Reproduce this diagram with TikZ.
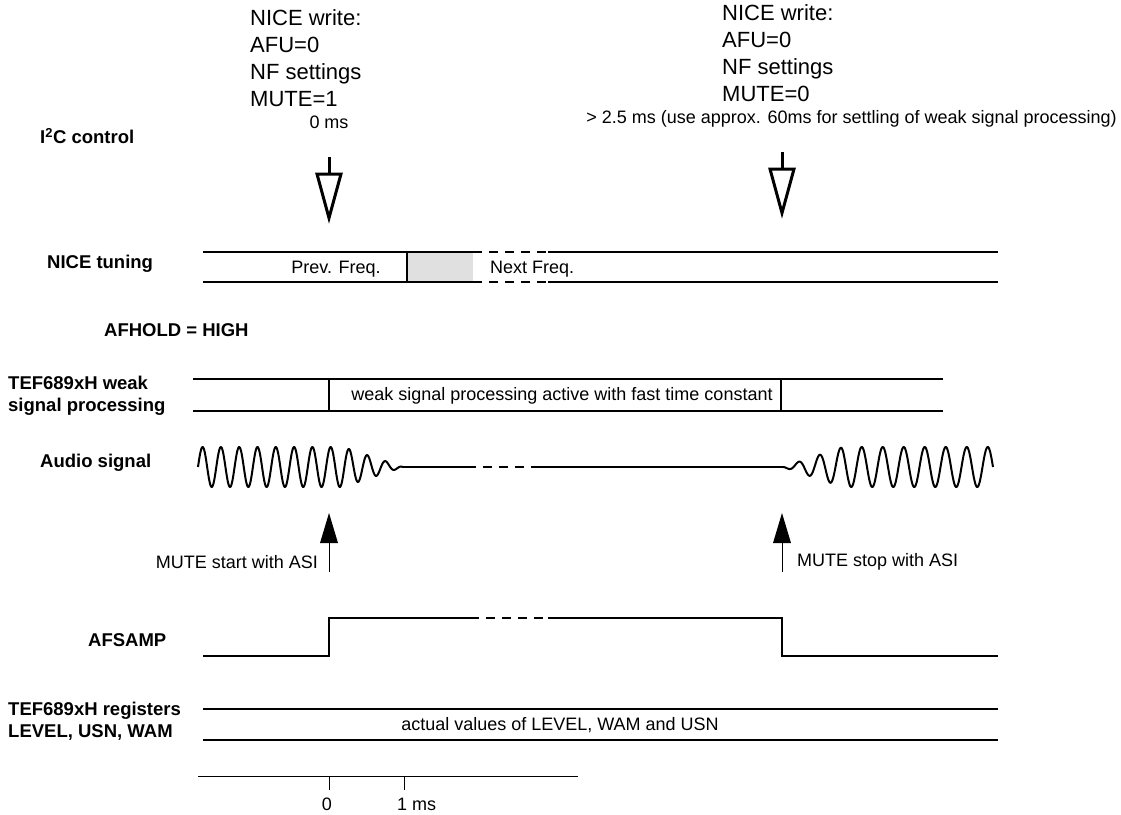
\documentclass[tikz,border=0pt]{standalone}
\usepackage{fontspec}
\setmainfont{Liberation Sans}
\begin{document}
\begin{tikzpicture}[x=1pt,y=-1pt,
  sig/.style={line width=2pt},
  gapline/.style={line width=2pt, dash pattern=on 9pt off 7pt},
  lbl/.style={font=\bfseries\fontsize{18.5}{22}\selectfont, anchor=west, align=left, inner sep=0pt},
  big/.style={font=\fontsize{22}{27}\selectfont, anchor=base west, align=left, inner sep=0pt},
  sm/.style={font=\fontsize{18}{20}\selectfont, inner sep=0pt},
  openarrow/.style={line width=3pt, miter limit=10, fill=white},
  asiarrow/.style={line width=0.8pt},
  asihead/.style={fill=black, draw=none}]
\useasboundingbox (0,0) rectangle (1121,814);

% left labels
\node[lbl] (i2c) at (40,136) {I\textsuperscript{2}C control};
\node[lbl] (tun) at (47,264) {NICE tuning};
\node[lbl] (afh) at (104,330) {AFHOLD = HIGH};
\node[lbl] (wsp) at (8,396) {TEF689xH weak\\signal processing};
\node[lbl] (aud) at (40,463) {Audio signal};
\node[lbl] (afs) at (88,640) {AFSAMP};
\node[lbl] (reg) at (8,721) {TEF689xH registers\\LEVEL, USN, WAM};

% top texts
\node[big] (w1a) at (250,25) {NICE write:};
\node[big] (w1b) at (250,52) {AFU=0};
\node[big] (w1c) at (250,79) {NF settings};
\node[big] (w1d) at (250,106) {MUTE=1};
\node[big] (w2a) at (722,20) {NICE write:};
\node[big] (w2b) at (722,47) {AFU=0};
\node[big] (w2c) at (722,74) {NF settings};
\node[big] (w2d) at (722,101) {MUTE=0};
\node[sm, anchor=base] (t0) at (329,128) {0 ms};
\node[sm, anchor=base east] (t1) at (1117,123) {> 2.5 ms (use approx. 60ms for settling of weak signal processing)};

% I2C arrows
\draw[line width=3pt] (329,157) -- (329,174);
\draw[openarrow] (317,174) -- (341,174) -- (329,218) -- cycle;
\draw[line width=3pt] (782,152) -- (782,169);
\draw[openarrow] (770,169) -- (794,169) -- (782,213) -- cycle;

% NICE tuning
\fill[black!12] (407,252) rectangle (473,282);
\draw[sig] (203,252) -- (473,252) (203,282) -- (473,282);
\draw[sig] (407,252) -- (407,282);
\draw[gapline] (473,252) -- (548,252) (473,282) -- (548,282);
\draw[sig] (548,252) -- (998,252) (548,282) -- (998,282);
\node[sm, anchor=base] (prev) at (336,273) {Prev. Freq.};
\node[sm, anchor=base west] (next) at (490,273) {Next Freq.};

% weak signal processing
\draw[sig] (193,379) -- (943,379) (193,411) -- (943,411);
\draw[sig] (329,379) -- (329,411) (781,379) -- (781,411);
\node[sm] (wtxt) at (562,396) {weak signal processing active with fast time constant};

% audio
\draw[sig, line join=round] plot[domain=198:403, samples=400] (\x, {467-20*min(1,(403-\x)/60)*sin((\x-198)*19.672)});
\draw[sig] (403,467) -- (467,467);
\draw[gapline] (467,467) -- (540,467);
\draw[sig] (540,467) -- (783,467);
\draw[sig, line join=round] plot[domain=783:993, samples=400] (\x, {467+20*min(1,(\x-783)/60)*sin((\x-783)*17.143)});

% ASI arrows
\draw[asiarrow] (329,572) -- (329,540);
\fill[asihead] (320,543) -- (338,543) -- (329,513) -- cycle;
\node[sm, anchor=east] (ms) at (318,562) {MUTE start with ASI};
\draw[asiarrow] (782,572) -- (782,540);
\fill[asihead] (773,543) -- (791,543) -- (782,513) -- cycle;
\node[sm, anchor=west] (mst) at (797,562) {MUTE stop with ASI};

% AFSAMP
\draw[sig] (203,656) -- (329,656) -- (329,618) -- (470,618);
\draw[gapline] (470,618) -- (548,618);
\draw[sig] (548,618) -- (782,618) -- (782,656) -- (998,656);

% registers
\draw[sig] (203,709) -- (998,709) (203,740) -- (998,740);
\node[sm] (rtxt) at (560,725) {actual values of LEVEL, WAM and USN};

% time axis
\draw[line width=1pt] (198,776) -- (578,776);
\draw[line width=1pt] (329,776) -- (329,790) (404,776) -- (404,790);
\node[sm, anchor=base] (z0) at (327,810) {0};
\node[sm, anchor=base west] (z1) at (397,810) {1 ms};
\end{tikzpicture}
\end{document}
